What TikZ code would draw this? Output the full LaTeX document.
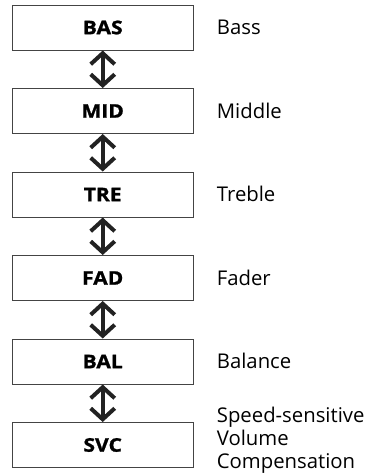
\documentclass[tikz,border=0pt]{standalone}
\usepackage{fontspec}
\setmainfont{Open Sans}
\newfontfamily\boxfont[FakeStretch=1.12,FakeBold=1.2]{Open Sans Bold}
\usetikzlibrary{arrows.meta,calc}
\definecolor{boxline}{HTML}{444444}
\definecolor{arrowcol}{HTML}{222222}
\tikzset{
  menubox/.style={draw=boxline, line width=1pt, minimum width=181pt, minimum height=45pt, inner sep=0pt, font=\fontsize{18.8}{22}\selectfont\boxfont},
  desc/.style={anchor=base west, inner sep=0pt, align=left, font=\fontsize{20.3}{22.8}\selectfont},
  updown/.style={draw=arrowcol, line width=4pt, {Straight Barb[length=11pt,width=24pt]}-{Straight Barb[length=11pt,width=24pt]}},
}
\begin{document}
\begin{tikzpicture}[x=1pt,y=-1pt]
\useasboundingbox (0,0) rectangle (369,475);
\node[menubox] (bas) at (102.7,27.5) {BAS};
\node[menubox] (mid) at (102.7,111) {MID};
\node[menubox] (tre) at (102.7,194.5) {TRE};
\node[menubox] (fad) at (102.7,278) {FAD};
\node[menubox] (bal) at (102.7,361.5) {BAL};
\node[menubox] (svc) at (102.7,445) {SVC};
\node[desc] (lbas) at ($(bas.east)+(23,7)$) {Bass};
\node[desc] (lmid) at ($(mid.east)+(23,7)$) {Middle};
\node[desc] (ltre) at ($(tre.east)+(23,7)$) {Treble};
\node[desc] (lfad) at ($(fad.east)+(23,7)$) {Fader};
\node[desc] (lbal) at ($(bal.east)+(23,7)$) {Balance};
\node[desc] (lsvc) at ($(svc.east)+(23,23.3)$) {Speed-sensitive\\Volume\\Compensation};
\draw[updown] (bas.south) -- (mid.north);
\draw[updown] (mid.south) -- (tre.north);
\draw[updown] (tre.south) -- (fad.north);
\draw[updown] (fad.south) -- (bal.north);
\draw[updown] (bal.south) -- (svc.north);
\end{tikzpicture}
\end{document}
